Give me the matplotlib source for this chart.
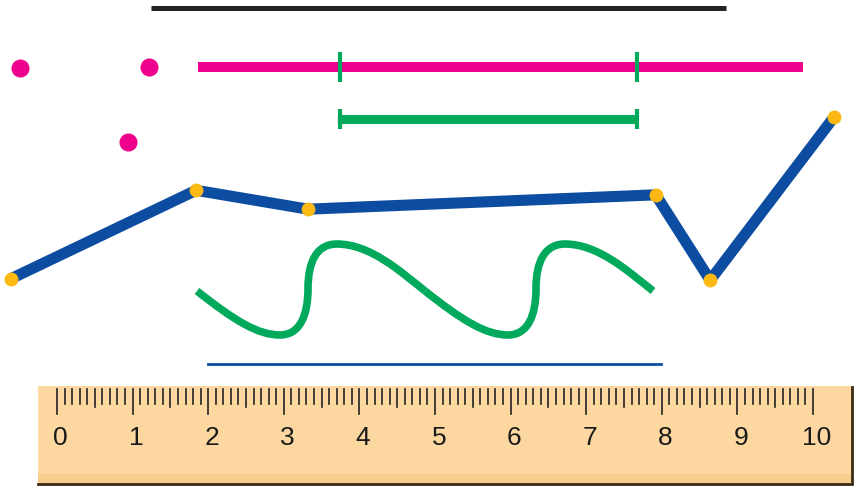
import numpy as np
import matplotlib
matplotlib.use("Agg")
import matplotlib.pyplot as plt
from matplotlib.path import Path
from matplotlib.patches import PathPatch, Rectangle

# all positions in cm, measured along the ruler (x) and down from the top edge (y)
black_x = [1.24, 8.85]
black_y = [0.12, 0.12]

dots_x = [-0.49, 1.22, 0.94]
dots_y = [0.91, 0.90, 1.89]

magenta_x = [1.87, 9.87]
magenta_y = [0.90, 0.90]
marks_x = [3.74, 7.67]

green_x = [3.74, 7.67]
green_y = [1.59, 1.59]

blue_x = [-0.61, 1.84, 3.32, 7.92, 8.64, 10.28]
blue_y = [3.70, 2.53, 2.78, 2.59, 3.72, 1.56]

# control points of the wavy curve (two pieces, cubic bezier)
wave1_x = [1.852, 2.354, 2.659, 2.950, 3.214, 3.320, 3.320,
           3.320, 3.439, 3.704, 4.140, 4.537, 4.868]
wave1_y = [3.862, 4.259, 4.444, 4.444, 4.444, 4.180, 3.836,
           3.466, 3.241, 3.241, 3.241, 3.598, 3.862]
wave2_x = [4.868, 5.370, 5.675, 5.966, 6.230, 6.336, 6.336,
           6.336, 6.455, 6.720, 7.156, 7.553, 7.884]
wave2_y = [3.862, 4.259, 4.444, 4.444, 4.444, 4.180, 3.836,
           3.466, 3.241, 3.241, 3.241, 3.598, 3.862]

thin_x = [2.0, 7.99]
thin_y = [4.83, 4.83]

ruler_labels = [str(i) for i in range(11)]

BLUE = '#0d4da1'
GREEN = '#00a95c'
PINK = '#ec008c'
ORANGE = '#fdb913'

fig = plt.figure(figsize=(8.56, 4.89), dpi=100)
ax = fig.add_axes([0, 0, 1, 1])
ax.set_xlim(-0.754, 10.569)
ax.set_ylim(6.468, 0)
ax.axis('off')

# top black segment
ax.plot(black_x, black_y, color='#222222', lw=3.6, solid_capstyle='butt')

# pink dots and pink segment with green marks
ax.plot(dots_x, dots_y, 'o', color=PINK, ms=13, mec='none')
ax.plot(magenta_x, magenta_y, color=PINK, lw=7.2, solid_capstyle='butt')
for mx in marks_x:
    ax.plot([mx, mx], [0.70, 1.10], color=GREEN, lw=3.0, solid_capstyle='butt')

# green segment with end caps
ax.plot(green_x, green_y, color=GREEN, lw=6.5, solid_capstyle='butt')
for gx in green_x:
    ax.plot([gx, gx], [1.455, 1.72], color=GREEN, lw=3.0, solid_capstyle='butt')

# blue broken line
ax.plot(blue_x, blue_y, color=BLUE, lw=8, solid_joinstyle='round',
        solid_capstyle='butt', zorder=3)
ax.plot(blue_x, blue_y, 'o', color=ORANGE, ms=10, mec='none', zorder=4)

# wavy green line
codes = [Path.MOVETO] + [Path.CURVE4] * 12
for wx, wy in [(wave1_x, wave1_y), (wave2_x, wave2_y)]:
    p = Path(np.column_stack([wx, wy]), codes)
    ax.add_patch(PathPatch(p, fc='none', ec=GREEN, lw=5.5, capstyle='butt',
                           joinstyle='round'))

# thin blue line above the ruler
ax.plot(thin_x, thin_y, color=BLUE, lw=2)

# ruler body
ax.add_patch(Rectangle((-0.25, 5.12), 10.77, 1.31, fc='#fcd8a0', ec='none', zorder=1))
ax.add_patch(Rectangle((-0.25, 6.28), 10.77, 0.15, fc='#f7cd8f', ec='none', zorder=1))
ax.plot([-0.25, 10.52, 10.52], [6.42, 6.42, 5.13], color='#3a2c14', lw=2,
        solid_joinstyle='miter', zorder=2)

# ruler ticks (mm)
for i in range(101):
    x = i / 10
    if i % 10 == 0:
        y2 = 5.49
    elif i % 5 == 0:
        y2 = 5.40
    else:
        y2 = 5.36
    ax.plot([x, x], [5.16, y2], color='#222222', lw=1.2, zorder=2)

for i, lab in enumerate(ruler_labels):
    ax.text(i + 0.05, 5.80, lab, ha='center', va='center', fontsize=19,
            family='Liberation Sans', color='#1a1a1a', zorder=3)

plt.savefig('out.png', dpi=100)
